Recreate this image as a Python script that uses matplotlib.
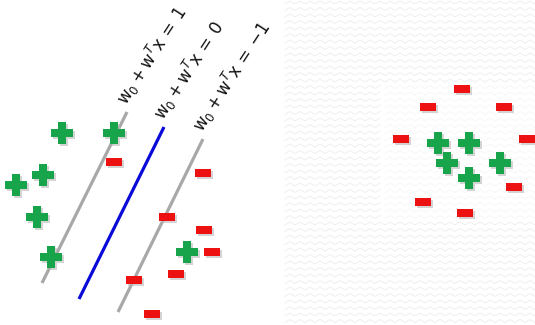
import numpy as np
import matplotlib.pyplot as plt
from matplotlib.path import Path

# everything in picture pixel coordinates (x right, y down)
plus_left_x = [62, 114, 43, 16, 37, 51, 187]
plus_left_y = [133, 133, 175, 185, 217, 257, 252]
minus_left_x = [114, 203, 167, 204, 212, 176, 134, 152]
minus_left_y = [162, 173, 217, 230, 252, 274, 280, 314]

plus_right_x = [438, 469, 447, 500, 469]
plus_right_y = [143, 143, 163, 163, 178]
minus_right_x = [462, 428, 504, 401, 527, 514, 423, 465]
minus_right_y = [89, 107, 107, 139, 139, 187, 202, 213]

# margin lines: (x0, y0, x1, y1)
lines = [(42, 283, 127, 112), (79, 299, 164, 127), (118, 312, 203, 139)]
line_colors = ['#a8a8a8', '#0a0ad8', '#a8a8a8']
line_values = ['1', '0', '-1']

rect = Path([(-1, -0.5), (1, -0.5), (1, 0.5), (-1, 0.5), (-1, -0.5)],
            [Path.MOVETO, Path.LINETO, Path.LINETO, Path.LINETO, Path.CLOSEPOLY])

plt.rcParams['mathtext.fontset'] = 'dejavusans'

fig = plt.figure(figsize=(5.35, 3.25), dpi=100)
ax = fig.add_axes([0, 0, 1, 1])
ax.set_xlim(0, 535)
ax.set_ylim(325, 0)
ax.axis('off')

# faint zigzag background on the right
zx = np.arange(285, 540, 5.0)
zoff = np.where(np.arange(len(zx)) % 2 == 0, 0, -3)
for y in np.arange(4, 325, 6.5):
    inner = 85 < y < 225
    if inner:
        ax.plot(zx[zx < 385], (y + zoff)[zx < 385], color='#efefef', lw=0.7, zorder=0)
        ax.plot(zx[zx >= 385], (y + zoff)[zx >= 385], color='#f7f7f7', lw=0.7, zorder=0)
    else:
        ax.plot(zx, y + zoff, color='#efefef', lw=0.7, zorder=0)

for (x0, y0, x1, y1), c, v in zip(lines, line_colors, line_values):
    ax.plot([x0, x1], [y0, y1], color=c, lw=2.3, solid_capstyle='butt', zorder=2)
    val = v.replace('-', '\u2212')
    ax.text(x1 + 4, y1 - 3,
            r'$\mathrm{w}_0\:+\:\mathrm{w}^T\mathrm{x}\:=\:%s$' % val,
            rotation=57, rotation_mode='anchor', ha='left', va='bottom',
            fontsize=12, color='#111111', zorder=3)

for px, py, mx, my in [(plus_left_x, plus_left_y, minus_left_x, minus_left_y),
                       (plus_right_x, plus_right_y, minus_right_x, minus_right_y)]:
    ax.scatter(np.array(px) + 1.5, np.array(py) + 1.5, marker='P', s=270,
               color='#b8b8b8', linewidths=0, zorder=3, alpha=0.6)
    ax.scatter(px, py, marker='P', s=270, color='#17a44a', linewidths=0, zorder=4)
    ax.scatter(np.array(mx) + 1.5, np.array(my) + 1.5, marker=rect, s=130,
               color='#b8b8b8', linewidths=0, zorder=3, alpha=0.6)
    ax.scatter(mx, my, marker=rect, s=130, color='#ee1111', linewidths=0, zorder=4)

fig.savefig('out.png', dpi=100)
